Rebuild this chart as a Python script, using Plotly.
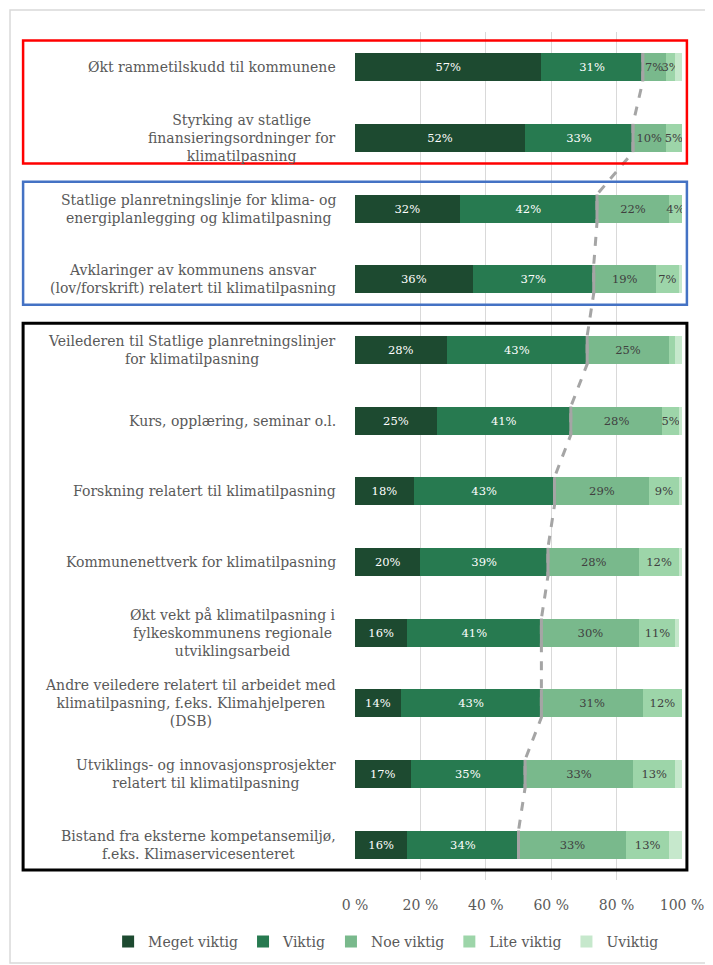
import plotly.graph_objects as go

categories = [
    "Økt rammetilskudd til kommunene",
    "Styrking av statlige<br>finansieringsordninger for<br>klimatilpasning",
    "Statlige planretningslinje for klima- og<br>energiplanlegging og klimatilpasning",
    "Avklaringer av kommunens ansvar<br>(lov/forskrift) relatert til klimatilpasning",
    "Veilederen til Statlige planretningslinjer<br>for klimatilpasning",
    "Kurs, opplæring, seminar o.l.",
    "Forskning relatert til klimatilpasning",
    "Kommunenettverk for klimatilpasning",
    "Økt vekt på klimatilpasning i<br>fylkeskommunens regionale<br>utviklingsarbeid",
    "Andre veiledere relatert til arbeidet med<br>klimatilpasning, f.eks. Klimahjelperen<br>(DSB)",
    "Utviklings- og innovasjonsprosjekter<br>relatert til klimatilpasning",
    "Bistand fra eksterne kompetansemiljø,<br>f.eks. Klimaservicesenteret",
]

meget_viktig = [57, 52, 32, 36, 28, 25, 18, 20, 16, 14, 17, 16]
viktig       = [31, 33, 42, 37, 43, 41, 43, 39, 41, 43, 35, 34]
noe_viktig   = [7, 10, 22, 19, 25, 28, 29, 28, 30, 31, 33, 33]
lite_viktig  = [3, 5, 4, 7, 2, 5, 9, 12, 11, 12, 13, 13]
uviktig      = [2, 0, 0, 1, 2, 1, 1, 1, 1, 0, 2, 4]

series_names = ["Meget viktig", "Viktig", "Noe viktig", "Lite viktig", "Uviktig"]
series_colors = ["#1d4a30", "#277a50", "#79b98c", "#9dd5a9", "#c6e8cc"]
label_colors = ["#ffffff", "#ffffff", "#404040", "#404040", "#404040"]
min_label = [1, 1, 1, 3, 101]

x_ticks = [0, 20, 40, 60, 80, 100]
x_ticktext = ["0 %", "20 %", "40 %", "60 %", "80 %", "100 %"]

# groups of categories framed by coloured boxes (first idx, last idx, colour, width)
groups = [(0, 1, "#ff0000", 2.5), (2, 3, "#4472c4", 2.5), (4, 11, "#000000", 3)]

FONT = "DejaVu Serif"
idx = list(range(len(categories)))
BW = 0.4

fig = go.Figure()
all_series = [meget_viktig, viktig, noe_viktig, lite_viktig, uviktig]
for name, vals, col, lcol, mn in zip(series_names, all_series, series_colors, label_colors, min_label):
    fig.add_trace(go.Bar(
        y=idx, x=vals, orientation="h", name=name, width=BW,
        marker=dict(color=col, line=dict(width=0)),
        text=[f"{v}%" if v >= mn else "" for v in vals],
        textposition="inside", insidetextanchor="middle", textangle=0,
        textfont=dict(family=FONT, size=11.5, color=lcol),
        constraintext="none",
        hoverinfo="skip",
    ))

# dashed connector through the Meget+Viktig boundary
cum = [a + b for a, b in zip(meget_viktig, viktig)]
dx, dy, sx, sy = [], [], [], []
for i, c in zip(idx, cum):
    dx += [c, c]
    dy += [i - BW / 2, i + BW / 2]
    sx += [c, c, None]
    sy += [i - BW / 2, i + BW / 2, None]
fig.add_trace(go.Scatter(x=dx, y=dy, mode="lines", showlegend=False,
                         line=dict(color="#a5a5a5", width=3, dash="dash"), hoverinfo="skip"))
fig.add_trace(go.Scatter(x=sx, y=sy, mode="lines", showlegend=False,
                         line=dict(color="#a5a5a5", width=3), hoverinfo="skip"))

# category labels (centered multi-line, right-anchored)
for i, cat in zip(idx, categories):
    fig.add_annotation(x=-0.052, xref="paper", y=i, yref="y", text=cat, showarrow=False,
                       xanchor="right", yanchor="middle", align="center",
                       font=dict(family=FONT, size=14, color="#595959"))

shapes = []
# outer chart frame
shapes.append(dict(type="rect", xref="paper", yref="paper", x0=-1.055, x1=1.2, y0=-0.098, y1=1.026,
                   line=dict(color="#d9d9d9", width=1.5), layer="below"))
for g0, g1, col, w in groups:
    shapes.append(dict(type="rect", xref="paper", yref="y", x0=-1.015, x1=1.015,
                       y0=g0 - 0.38, y1=g1 + 0.36, line=dict(color=col, width=w)))

fig.update_layout(
    width=713, height=965,
    margin=dict(l=347, r=39, t=24, b=93, autoexpand=False),
    barmode="stack", bargap=0.6,
    plot_bgcolor="white", paper_bgcolor="white",
    uniformtext=dict(minsize=11.5, mode="show"),
    shapes=shapes,
    showlegend=True,
    legend=dict(orientation="h", xref="paper", yref="paper",
                x=-0.755, xanchor="left", y=-0.073, yanchor="middle",
                font=dict(family=FONT, size=14, color="#595959"), traceorder="normal",
                itemwidth=30),
    xaxis=dict(range=[0, 100], tickvals=x_ticks, ticktext=x_ticktext,
               showgrid=True, gridcolor="#d9d9d9", gridwidth=1, zeroline=False,
               ticks="outside", ticklen=12, tickcolor="rgba(0,0,0,0)",
               tickfont=dict(family=FONT, size=14, color="#595959"), showline=False,
               automargin=False),
    yaxis=dict(range=[11.5, -0.5], showticklabels=False, showgrid=False, zeroline=False,
               showline=False, automargin=False),
)

fig.write_html("out.html")
